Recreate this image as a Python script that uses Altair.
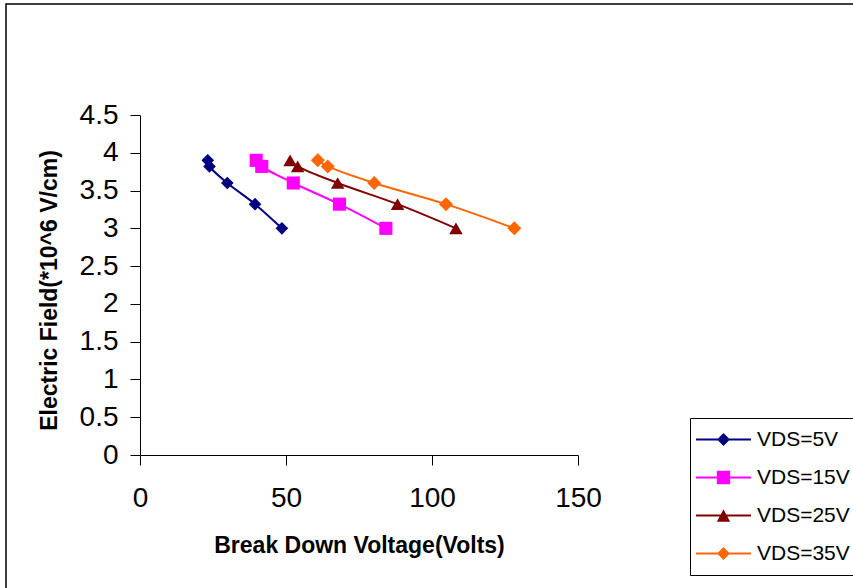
import altair as alt
import pandas as pd

# ---- data ----
series = ["VDS=5V", "VDS=15V", "VDS=25V", "VDS=35V"]
efield = [3.9, 3.82, 3.6, 3.32, 3.0]
bd_5 = [23.2, 23.8, 29.9, 39.4, 48.6]
bd_15 = [39.8, 41.7, 52.5, 68.3, 84.2]
bd_25 = [51.4, 54.0, 67.7, 88.2, 108.2]
bd_35 = [60.9, 64.3, 80.2, 104.8, 128.2]

x_ticks = [0, 50, 100, 150]
y_ticks = [0, 0.5, 1, 1.5, 2, 2.5, 3, 3.5, 4, 4.5]

colors = ["#000080", "#FF00FF", "#800000", "#FF6600"]
shapes = ["diamond", "square", "triangle-up", "diamond"]
sizes = [160, 196, 185, 170]

rows = []
for k, (name, xs) in enumerate(zip(series, [bd_5, bd_15, bd_25, bd_35])):
    for i, (xv, yv) in enumerate(zip(xs, efield)):
        rows.append({"series": name, "marker": k,
                     "voltage": xv, "field": yv, "order": i})
df = pd.DataFrame(rows)
marker_ids = list(range(len(series)))

FONT = "Liberation Sans"

# legend symbol: a thin bar (the line) with the series marker on it (unit = 7px)
line_part = "M-3.93,-0.15H3.93V0.15H-3.93Z"
marker_paths = {
    "diamond": "M0,-0.92L0.92,0L0,0.92L-0.92,0Z",
    "square": "M-0.95,-0.95H0.95V0.95H-0.95Z",
    "triangle-up": "M0,-0.9L0.95,0.9L-0.95,0.9Z",
}
shape_expr = "'" + line_part + marker_paths[shapes[-1]] + "'"
for name, shp in reversed(list(zip(series[:-1], shapes[:-1]))):
    shape_expr = f"datum.value == '{name}' ? '{line_part}{marker_paths[shp]}' : ({shape_expr})"

color_scale = alt.Scale(domain=series, range=colors)
legend = alt.Legend(
    title=None,
    orient="none",
    legendX=550,
    legendY=303,
    direction="vertical",
    strokeColor="black",
    fillColor="white",
    padding=11,
    symbolSize=196,
    symbolStrokeWidth=0,
    symbolOffset=12,
    symbolType={"expr": shape_expr},
    symbolFillColor={"expr": "scale('color', datum.value)"},
    symbolOpacity=1,
    labelFont=FONT,
    labelFontSize=21,
    labelColor="black",
    labelOffset=23,
    rowPadding=16,
    cornerRadius=0,
)

x_axis = alt.Axis(
    values=x_ticks,
    title="Break Down Voltage(Volts)",
    titleFont=FONT,
    titleFontSize=23,
    titleFontWeight="bold",
    titleColor="black",
    titleY=90,
    titleBaseline="middle",
    labelFont=FONT,
    labelFontSize=28,
    labelColor="black",
    labelPadding=19,
    labelOverlap=False,
    tickSize=10,
    tickColor="black",
    domainColor="black",
    grid=False,
    labelFlush=False,
)
y_axis = alt.Axis(
    values=y_ticks,
    format="~g",
    title="Electric Field(*10^6 V/cm)",
    titleFont=FONT,
    titleFontSize=23,
    titleFontWeight="bold",
    titleColor="black",
    titleX=-91,
    titleY=175,
    titleBaseline="middle",
    labelFont=FONT,
    labelFontSize=28,
    labelColor="black",
    labelPadding=12,
    labelOverlap=False,
    tickSize=10,
    tickColor="black",
    domainColor="black",
    grid=False,
    labelFlush=False,
)
x_scale = alt.Scale(domain=[0, 150], nice=False, zero=False)
y_scale = alt.Scale(domain=[0, 4.5], nice=False, zero=False)

base = alt.Chart(df)

lines = base.mark_line(strokeWidth=2, interpolate="catmull-rom").encode(
    x=alt.X("voltage:Q", scale=x_scale, axis=x_axis),
    y=alt.Y("field:Q", scale=y_scale, axis=y_axis),
    color=alt.Color("series:N", scale=color_scale, legend=legend),
    order="order:O",
    detail="series:N",
)

points = base.mark_point(filled=True, opacity=1, strokeWidth=0).encode(
    x=alt.X("voltage:Q", scale=x_scale, axis=x_axis),
    y=alt.Y("field:Q", scale=y_scale, axis=y_axis),
    fill=alt.Fill("marker:N", scale=alt.Scale(domain=marker_ids, range=colors), legend=None),
    shape=alt.Shape("marker:N", scale=alt.Scale(domain=marker_ids, range=shapes), legend=None),
    size=alt.Size("marker:N", scale=alt.Scale(domain=marker_ids, range=sizes), legend=None),
)

frame = alt.Chart(alt.Data(values=[{"f": 1}])).mark_rect(
    fill="transparent", stroke="black", strokeWidth=1.5
).encode(
    x=alt.value(-134), x2=alt.value(800), y=alt.value(-111), y2=alt.value(560)
)

chart = (
    alt.layer(frame, lines, points)
    .properties(
        width=438,
        height=340,
        padding={"left": 140, "top": 115, "right": 275, "bottom": 133},
        autosize=alt.AutoSizeParams(type="none"),
        background="white",
    )
    .configure_view(strokeWidth=0)
)

chart.save("out.html", embed_options={"renderer": "svg", "actions": False})
